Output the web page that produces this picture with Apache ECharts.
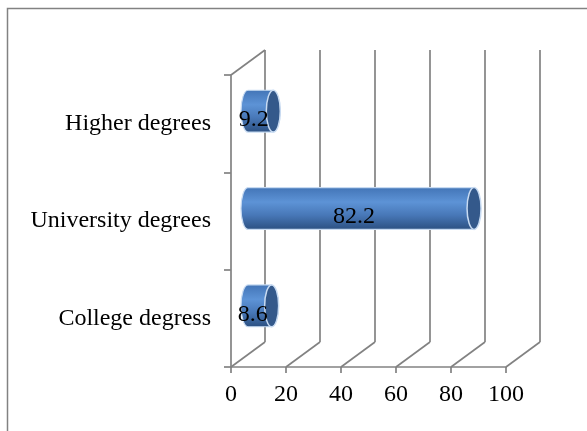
<!DOCTYPE html>
<html lang="en">
<head>
    <meta charset="UTF-8">
    <title>Degrees</title>
    <style>
        body{ margin:0; background:#fff; }
        #main{ width:587px; height:431px; }
    </style>
</head>
<body>
<div id="main"></div>
<script src="https://cdn.jsdelivr.net/npm/echarts@6/dist/echarts.min.js"></script>
<script>
    // data
    var categories = ['College degress', 'University degrees', 'Higher degrees'];
    var values = [8.6, 82.2, 9.2];
    var xTicks = [0, 20, 40, 60, 80, 100];

    var lineColor = '#828282';
    var font = '"Liberation Serif", "Times New Roman", serif';
    // 3d depth offset of the back wall
    var dx = 34, dy = -25;

    var myChart = echarts.init(document.getElementById('main'));

    var barData = [];
    for (var i = 0; i < values.length; i++) {
        barData.push([values[i], i]);
    }
    var floorData = [];
    for (var j = 0; j < xTicks.length; j++) {
        floorData.push([xTicks[j], 0]);
    }

    function renderFloor(params, api) {
        var cs = params.coordSys;
        var p = api.coord([api.value(0), 0]);
        var bottom = cs.y + cs.height;
        var children = [{
            type: 'line',
            shape: {x1: p[0], y1: bottom, x2: p[0] + dx, y2: bottom + dy},
            style: {stroke: lineColor, lineWidth: 1.7}
        }];
        if (params.dataIndex === 0) {
            // top edge of the left wall
            children.push({
                type: 'line',
                shape: {x1: cs.x, y1: cs.y, x2: cs.x + dx, y2: cs.y + dy},
                style: {stroke: lineColor, lineWidth: 1.7}
            });
        }
        return {type: 'group', children: children};
    }

    function renderBar(params, api) {
        var v = api.value(0);
        var cat = api.value(1);
        var start = api.coord([0, cat]);
        var end = api.coord([v, cat]);
        var band = api.size([0, 1])[1];
        var h = band * 0.43;
        var rx = 7, ry = h / 2;
        var x0 = start[0] + dx / 2, x1 = end[0] + dx / 2;
        var cy = start[1] + dy / 2;
        var top = cy - ry, bot = cy + ry;
        var path = 'M' + x0 + ',' + top + ' L' + x1 + ',' + top + ' L' + x1 + ',' + bot +
            ' L' + x0 + ',' + bot + ' A' + rx + ',' + ry + ' 0 0 1 ' + x0 + ',' + top + ' Z';
        return {
            type: 'group',
            children: [{
                type: 'path',
                shape: {pathData: path, x: x0 - rx, y: top, width: x1 - x0 + rx, height: h, layout: 'cover'},
                style: {
                    fill: new echarts.graphic.LinearGradient(0, 0, 0, 1, [
                        {offset: 0, color: '#4274b6'},
                        {offset: 0.35, color: '#5d93d6'},
                        {offset: 0.65, color: '#4878b8'},
                        {offset: 1, color: '#2b4f80'}
                    ]),
                    stroke: '#c8dbf2',
                    lineWidth: 1.2
                }
            }, {
                type: 'ellipse',
                shape: {cx: x1, cy: cy, rx: rx, ry: ry},
                style: {fill: '#34598b', stroke: '#c8dbf2', lineWidth: 1.5}
            }, {
                type: 'text',
                x: (start[0] + end[0]) / 2 + 10,
                y: start[1] - 4,
                style: {
                    text: String(v),
                    fontFamily: font,
                    fontSize: 24,
                    fill: '#000',
                    align: 'center',
                    verticalAlign: 'middle'
                }
            }]
        };
    }

    var option = {
        animation: false,
        graphic: [{
            type: 'rect',
            shape: {x: 7.5, y: 8.5, width: 700, height: 600},
            style: {fill: 'none', stroke: lineColor, lineWidth: 1.5},
            z: 0
        }],
        grid: [
            {left: 231, top: 75, width: 275, height: 292},
            {left: 231 + dx, top: 75 + dy, width: 275, height: 292}
        ],
        xAxis: [{
            type: 'value', gridIndex: 0, min: 0, max: 100, interval: 20,
            axisLine: {show: true, lineStyle: {color: lineColor, width: 1.7}},
            axisTick: {show: true, length: 6, lineStyle: {color: lineColor, width: 1.7}},
            axisLabel: {color: '#000', fontFamily: font, fontSize: 24, margin: 16},
            splitLine: {show: false}
        }, {
            type: 'value', gridIndex: 1, min: 0, max: 100, interval: 20,
            axisLine: {show: false}, axisTick: {show: false}, axisLabel: {show: false},
            splitLine: {show: true, lineStyle: {color: lineColor, width: 1.7}}
        }],
        yAxis: [{
            type: 'category', gridIndex: 0, data: categories,
            axisLine: {show: true, lineStyle: {color: lineColor, width: 1.7}},
            axisTick: {show: true, length: 7, lineStyle: {color: lineColor, width: 1.7}},
            axisLabel: {color: '#000', fontFamily: font, fontSize: 24, margin: 20, padding: [5, 0, 0, 0]},
            splitLine: {show: false}
        }, {
            type: 'category', gridIndex: 1, data: categories, show: false
        }],
        series: [{
            type: 'custom', xAxisIndex: 0, yAxisIndex: 0,
            data: floorData, renderItem: renderFloor, silent: true, z: 1
        }, {
            type: 'custom', xAxisIndex: 0, yAxisIndex: 0,
            data: barData, renderItem: renderBar, z: 3
        }]
    };
    myChart.setOption(option);
</script>
</body>
</html>
